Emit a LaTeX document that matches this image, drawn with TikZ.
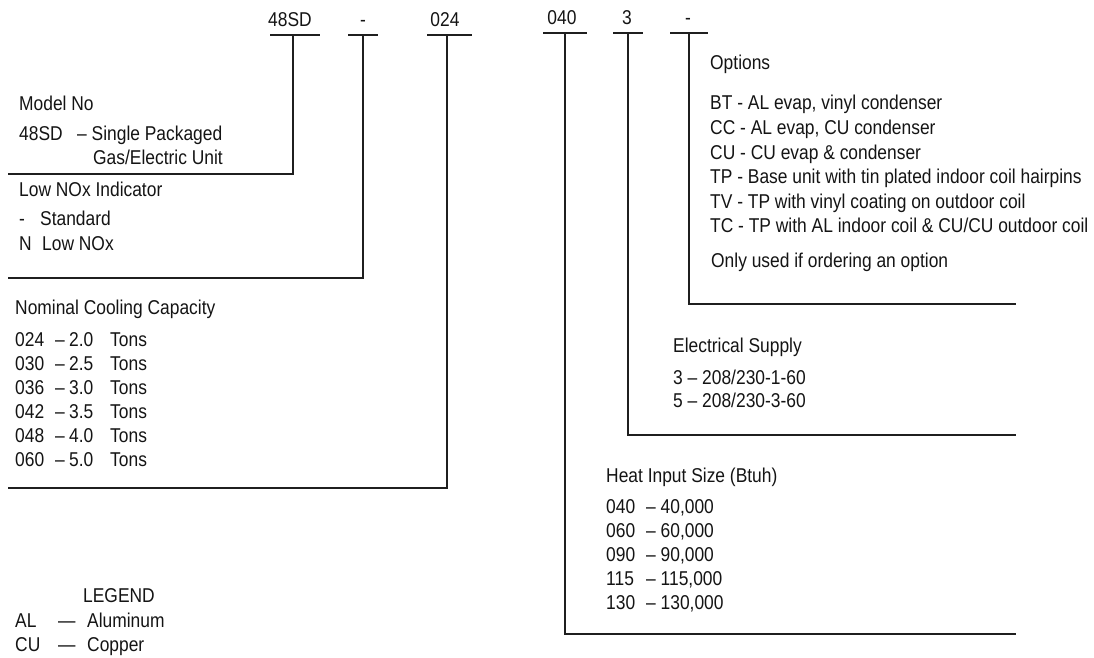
\documentclass[tikz,border=0pt]{standalone}
\usepackage{fontspec}
\setmainfont{Liberation Sans}[FakeStretch=0.87]
\begin{document}
\begin{tikzpicture}[x=1pt,y=-1pt,
  txt/.style={font=\fontsize{20}{22}\selectfont, inner sep=0pt, anchor=base west, text=black!92},
  code/.style={font=\fontsize{20}{22}\selectfont, inner sep=0pt, anchor=base, text=black!92},
  wire/.style={line width=2.2pt, draw=black!88},
  uline/.style={line width=2.2pt, draw=black!88}]
\useasboundingbox (0,0) rectangle (1094,658);

% ---- code letters at the top
\node[code] (k1) at (290,27) {48SD};
\node[code] (k2) at (363,27) {-};
\node[code] (k3) at (445,27) {024};
\node[code] (k4) at (562,25) {040};
\node[code] (k5) at (627,25) {3};
\node[code] (k6) at (688,25) {-};

% ---- underlines and their anchor points
\coordinate (u1) at (293,35);
\coordinate (u2) at (363,35);
\coordinate (u3) at (447,35);
\coordinate (u4) at (565,33);
\coordinate (u5) at (628,33);
\coordinate (u6) at (689,33);
\draw[uline] (270,35) -- (320,35);
\draw[uline] (348,35) -- (378,35);
\draw[uline] (427,35) -- (472,35);
\draw[uline] (543,33) -- (587,33);
\draw[uline] (613,33) -- (643,33);
\draw[uline] (670,33) -- (708,33);

% ---- connector ends
\coordinate (e1) at (8,174);
\coordinate (e2) at (8,278);
\coordinate (e3) at (8,488);
\coordinate (e4) at (1016,634);
\coordinate (e5) at (1016,435);
\coordinate (e6) at (1016,304);
\draw[wire] (u1) |- (e1);
\draw[wire] (u2) |- (e2);
\draw[wire] (u3) |- (e3);
\draw[wire] (u4) |- (e4);
\draw[wire] (u5) |- (e5);
\draw[wire] (u6) |- (e6);

% ---- Model No
\node[txt] (mn) at (19,111) {Model No};
\node[txt] (mn1) at (19,140) {48SD};
\node[txt] (mn2) at (77,140) {– Single Packaged};
\node[txt] (mn3) at (93,164) {Gas/Electric Unit};

% ---- Low NOx
\node[txt] (ln) at (19,196) {Low NOx Indicator};
\node[txt] (ln1a) at (19,225) {-};
\node[txt] (ln1b) at (40,225) {Standard};
\node[txt] (ln2a) at (19,250) {N};
\node[txt] (ln2b) at (42,250) {Low NOx};

% ---- Nominal cooling capacity
\node[txt] (nc) at (15,314) {Nominal Cooling Capacity};
\foreach \c/\v [count=\i from 0] in {024/2.0,030/2.5,036/3.0,042/3.5,048/4.0,060/5.0} {
  \node[txt] (cc\i) at (15,{346+24*\i}) {\c};
  \node[txt] (cd\i) at (55,{346+24*\i}) {–};
  \node[txt] (cv\i) at (69,{346+24*\i}) {\v};
  \node[txt] (ct\i) at (110,{346+24*\i}) {Tons};
}

% ---- Options
\node[txt] (op) at (710,70) {Options};
\node[txt] (op1) at (710,110) {BT - AL evap, vinyl condenser};
\node[txt] (op2) at (710,134.5) {CC - AL evap, CU condenser};
\node[txt] (op3) at (710,159) {CU - CU evap \& condenser};
\node[txt] (op4) at (710,183.5) {TP - Base unit with tin plated indoor coil hairpins};
\node[txt] (op5) at (710,208) {TV - TP with vinyl coating on outdoor coil};
\node[txt] (op6) at (710,232.5) {TC - TP with AL indoor coil \& CU/CU outdoor coil};
\node[txt] (op7) at (711,267) {Only used if ordering an option};

% ---- Electrical supply
\node[txt] (es) at (673,352) {Electrical Supply};
\node[txt] (es1) at (673,384) {3 – 208/230-1-60};
\node[txt] (es2) at (673,407) {5 – 208/230-3-60};

% ---- Heat input
\node[txt] (hi) at (606,482) {Heat Input Size (Btuh)};
\node[txt] (hc0) at (606,513) {040};
\node[txt] (hv0) at (646,513) {– 40,000};
\node[txt] (hc1) at (606,537) {060};
\node[txt] (hv1) at (646,537) {– 60,000};
\node[txt] (hc2) at (606,561) {090};
\node[txt] (hv2) at (646,561) {– 90,000};
\node[txt] (hc3) at (606,585) {115};
\node[txt] (hv3) at (646,585) {– 115,000};
\node[txt] (hc4) at (606,609) {130};
\node[txt] (hv4) at (646,609) {– 130,000};

% ---- Legend
\node[txt] (lg) at (83,602) {LEGEND};
\node[txt] (lg1a) at (15,627) {AL};
\node[txt] (lg1b) at (58,627) {—};
\node[txt] (lg1c) at (87,627) {Aluminum};
\node[txt] (lg2a) at (15,651) {CU};
\node[txt] (lg2b) at (58,651) {—};
\node[txt] (lg2c) at (87,651) {Copper};
\end{tikzpicture}
\end{document}
